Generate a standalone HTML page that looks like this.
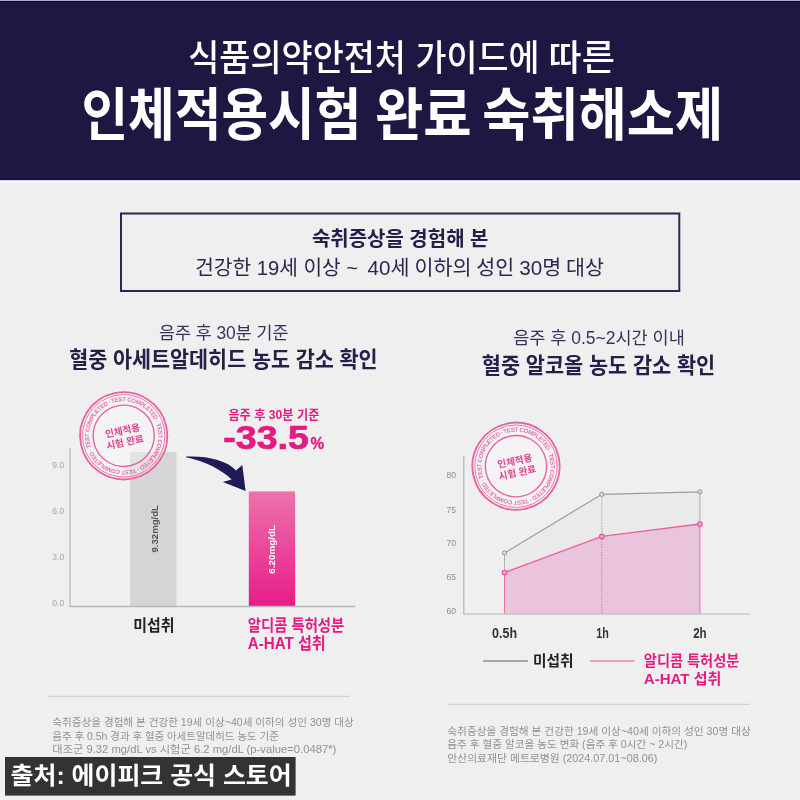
<!DOCTYPE html>
<html lang="ko">
<head>
<meta charset="utf-8">
<title>인체적용시험 완료 숙취해소제</title>
<style>
html,body{margin:0;padding:0;background:#efefef;}
body{width:800px;height:800px;overflow:hidden;}
svg{display:block;}
text{font-family:"Liberation Sans","Noto Sans CJK KR",sans-serif;}
.kr{font-family:"Noto Sans CJK KR","Liberation Sans",sans-serif;}
</style>
</head>
<body>
<svg width="800" height="800" viewBox="0 0 800 800">
<defs>
<linearGradient id="pinkbar" x1="0" y1="0" x2="0" y2="1">
<stop offset="0" stop-color="#ed72ab"/>
<stop offset="1" stop-color="#e81c8a"/>
</linearGradient>
<path id="ring1" d="M 0 -34.6 A 34.6 34.6 0 1 1 -0.01 -34.6"/>
<g id="stamp">
<circle r="43.6" fill="#ffffff" fill-opacity="0.35" stroke="#ea63a0" stroke-width="1.8"/>
<circle r="41.2" fill="none" stroke="#ea63a0" stroke-width="0.8"/>
<circle r="30.6" fill="none" stroke="#ea63a0" stroke-width="1.4"/>
<text font-size="6" font-weight="700" fill="#e8559a" fill-opacity="0.85" transform="rotate(-8)"><textPath href="#ring1" textLength="216" lengthAdjust="spacing">TEST COMPLETED · TEST COMPLETED · TEST COMPLETED · TEST COMPLETED ·</textPath></text>
<text x="0" y="-1.8" text-anchor="middle" font-size="9.6" font-weight="700" fill="#e5408f">인체적용</text>
<text x="0" y="10" text-anchor="middle" font-size="9.6" font-weight="700" fill="#e5408f">시험 완료</text>
</g>
</defs>

<!-- background -->
<rect x="0" y="0" width="800" height="800" fill="#efefef"/>
<!-- header -->
<rect x="0" y="0" width="800" height="180.3" fill="#1d1742"/>
<rect x="0" y="0" width="800" height="1" fill="#a9a5cc"/>
<rect x="0" y="1" width="800" height="1.4" fill="#0f0a38"/>
<rect x="0" y="178" width="800" height="2.3" fill="#17123e"/>
<rect x="0" y="180.3" width="800" height="2.2" fill="#f8f8fb"/>
<text y="71" font-size="36" font-weight="500" fill="#ffffff"><tspan x="188.2" textLength="217.8" lengthAdjust="spacingAndGlyphs">식품의약안전처</tspan> <tspan x="415.6" textLength="124" lengthAdjust="spacingAndGlyphs">가이드에</tspan> <tspan x="548.5" textLength="66.3" lengthAdjust="spacingAndGlyphs">따른</tspan></text>
<text y="135" font-size="57" font-weight="700" fill="#ffffff"><tspan x="81.4" textLength="280" lengthAdjust="spacingAndGlyphs">인체적용시험</tspan> <tspan x="375" textLength="96.6" lengthAdjust="spacingAndGlyphs">완료</tspan> <tspan x="482.2" textLength="241" lengthAdjust="spacingAndGlyphs">숙취해소제</tspan></text>

<!-- subject box -->
<rect x="121" y="213.5" width="558.3" height="77.5" fill="none" stroke="#2a2755" stroke-width="2"/>
<text x="400.2" y="246" text-anchor="middle" font-size="20" font-weight="700" fill="#23204a" textLength="176.5" lengthAdjust="spacingAndGlyphs">숙취증상을 경험해 본</text>
<text y="274.5" font-size="20.5" font-weight="400" fill="#2b2950"><tspan x="195.2" textLength="163" lengthAdjust="spacingAndGlyphs">건강한 19세 이상 ~</tspan> <tspan x="367.6" textLength="236.5" word-spacing="-0.8" lengthAdjust="spacingAndGlyphs">40세 이하의 성인 30명 대상</tspan></text>

<!-- left titles -->
<text x="223.7" y="338.5" text-anchor="middle" font-size="17.5" font-weight="400" fill="#35335a" textLength="129.5" lengthAdjust="spacingAndGlyphs">음주 후 30분 기준</text>
<text x="223.4" y="366.6" text-anchor="middle" font-size="22" font-weight="700" fill="#23204a" textLength="308.5" lengthAdjust="spacingAndGlyphs">혈중 아세트알데히드 농도 감소 확인</text>

<!-- left chart -->
<rect x="130" y="452" width="46.5" height="154" fill="#d5d5d5"/>
<rect x="248.8" y="491.4" width="46.3" height="114.8" fill="url(#pinkbar)"/>
<line x1="70" y1="448" x2="70" y2="607.1" stroke="#b9b9b9" stroke-width="1.3"/>
<line x1="69.4" y1="606.5" x2="355.5" y2="606.5" stroke="#b9b9b9" stroke-width="1.3"/>
<g font-size="8.6" fill="#a6a6a6" text-anchor="middle">
<text x="58.3" y="467.5">9.0</text>
<text x="58.3" y="514">6.0</text>
<text x="58.3" y="560">3.0</text>
<text x="58.3" y="606.3">0.0</text>
</g>
<text transform="translate(157.6,528.8) rotate(-90)" text-anchor="middle" font-size="9.6" font-weight="700" fill="#555555" textLength="47.5" lengthAdjust="spacingAndGlyphs">9.32mg/dL</text>
<text transform="translate(275.4,549.4) rotate(-90)" text-anchor="middle" font-size="9.6" font-weight="700" fill="#ffffff" textLength="48.7" lengthAdjust="spacingAndGlyphs">6.20mg/dL</text>
<text x="153.8" y="630.5" text-anchor="middle" font-size="15.5" font-weight="700" fill="#222222" textLength="41.3" lengthAdjust="spacingAndGlyphs">미섭취</text>
<text x="247.8" y="631" font-size="16" font-weight="700" fill="#e51a82" textLength="96.5" lengthAdjust="spacingAndGlyphs">알디콤 특허성분</text>
<text x="247.8" y="649" font-size="16" font-weight="700" fill="#e51a82" textLength="78" lengthAdjust="spacingAndGlyphs">A-HAT 섭취</text>

<!-- arrow -->
<path d="M186 456.6 C206 455.6 227 460 236 470.6 L242.3 465 L245.6 491 L222.8 482 L231.6 479.6 C222.5 470 205 461.2 186 457.2 Z" fill="#1e1b57"/>

<!-- pink callout -->
<text x="273.9" y="418.5" text-anchor="middle" font-size="13" font-weight="700" fill="#e51a82" textLength="91" lengthAdjust="spacingAndGlyphs">음주 후 30분 기준</text>
<text x="223.3" y="448.8" font-size="32.5" font-weight="700" fill="#e51a82" stroke="#e51a82" stroke-width="0.7" textLength="85.5" lengthAdjust="spacingAndGlyphs">-33.5</text>
<text x="310.6" y="448.8" font-size="16.8" font-weight="700" fill="#e51a82" stroke="#e51a82" stroke-width="0.4" textLength="13.6" lengthAdjust="spacingAndGlyphs">%</text>

<!-- left stamp -->
<g transform="translate(123.7,435.8) rotate(-12)"><use href="#stamp"/></g>

<!-- right titles -->
<text x="599" y="344.3" text-anchor="middle" font-size="17.5" font-weight="400" fill="#35335a" textLength="171.5" lengthAdjust="spacingAndGlyphs">음주 후 0.5~2시간 이내</text>
<text x="598.5" y="373" text-anchor="middle" font-size="22" font-weight="700" fill="#23204a" textLength="233.5" lengthAdjust="spacingAndGlyphs">혈중 알코올 농도 감소 확인</text>

<!-- right chart -->
<polygon points="504.5,553 601.8,494.3 699.9,491.8 699.9,614 504.5,614" fill="#eaeaea"/>
<polygon points="504.5,572.5 601.8,536.4 699.9,524 699.9,614 504.5,614" fill="#eac4da"/>
<line x1="504.5" y1="553" x2="504.5" y2="572.5" stroke="#a8a8a8" stroke-width="0.9"/>
<line x1="601.8" y1="494.3" x2="601.8" y2="536.4" stroke="#a0a0a0" stroke-width="0.9" stroke-dasharray="1.3 1.3"/>
<line x1="699.9" y1="491.8" x2="699.9" y2="524" stroke="#a8a8a8" stroke-width="0.9"/>
<line x1="504.5" y1="572.5" x2="504.5" y2="614" stroke="#ea6aa8" stroke-width="0.9"/>
<line x1="601.8" y1="536.4" x2="601.8" y2="614" stroke="#e85fa3" stroke-width="0.9" stroke-dasharray="1.3 1.3"/>
<line x1="699.9" y1="524" x2="699.9" y2="614" stroke="#ea6aa8" stroke-width="0.9"/>
<polyline points="504.5,553 601.8,494.3 699.9,491.8" fill="none" stroke="#9c9c9c" stroke-width="1.2"/>
<polyline points="504.5,572.5 601.8,536.4 699.9,524" fill="none" stroke="#ea62a2" stroke-width="1.4"/>
<g fill="#dcdcdc" stroke="#969696" stroke-width="1"><circle cx="504.5" cy="553" r="2.1"/><circle cx="601.8" cy="494.3" r="2.1"/><circle cx="699.9" cy="491.8" r="2.1"/></g>
<g fill="#f4a6cb" stroke="#e8509a" stroke-width="1.1"><circle cx="504.5" cy="572.5" r="2.3"/><circle cx="601.8" cy="536.4" r="2.3"/><circle cx="699.9" cy="524" r="2.3"/></g>
<line x1="463.8" y1="455.5" x2="463.8" y2="614.6" stroke="#b4b4b4" stroke-width="1.2"/>
<line x1="463.2" y1="614" x2="750" y2="614" stroke="#b4b4b4" stroke-width="1.2"/>
<g font-size="8.6" fill="#8e8e8e" text-anchor="middle">
<text x="451.3" y="478.1">80</text><text x="451.3" y="512.6">75</text><text x="451.3" y="546.1">70</text><text x="451.3" y="580.1">65</text><text x="451.3" y="613.8">60</text>
</g>
<g font-size="14" font-weight="700" fill="#333333" text-anchor="middle">
<text x="504.6" y="637.8" textLength="25" lengthAdjust="spacingAndGlyphs">0.5h</text><text x="602.6" y="637.8" textLength="12.5" lengthAdjust="spacingAndGlyphs">1h</text><text x="699.9" y="637.8" textLength="13.5" lengthAdjust="spacingAndGlyphs">2h</text>
</g>
<line x1="483.1" y1="661" x2="527.8" y2="661" stroke="#8c8c8c" stroke-width="1.5"/>
<text x="533" y="666.4" font-size="15" font-weight="700" fill="#222222" textLength="40.6" lengthAdjust="spacingAndGlyphs">미섭취</text>
<line x1="590" y1="661" x2="634.6" y2="661" stroke="#ef7fb5" stroke-width="1.5"/>
<text x="643.8" y="666.4" font-size="15" font-weight="700" fill="#e51a82" textLength="95.6" lengthAdjust="spacingAndGlyphs">알디콤 특허성분</text>
<text x="643.8" y="684" font-size="15" font-weight="700" fill="#e51a82" textLength="77.6" lengthAdjust="spacingAndGlyphs">A-HAT 섭취</text>

<!-- right stamp -->
<g transform="translate(516,466.2) rotate(-12)"><use href="#stamp"/></g>

<!-- footnotes -->
<line x1="48" y1="696.3" x2="350" y2="696.3" stroke="#d3d3d3" stroke-width="1.2"/>
<g font-size="10.3" fill="#919191" lengthAdjust="spacingAndGlyphs">
<text x="52.3" y="726" textLength="301.5" lengthAdjust="spacingAndGlyphs">숙취증상을 경험해 본 건강한 19세 이상~40세 이하의 성인 30명 대상</text>
<text x="52.3" y="739.5" textLength="226.5" lengthAdjust="spacingAndGlyphs">음주 후 0.5h 경과 후 혈중 아세트알데히드 농도 기준</text>
<text x="52.3" y="753" textLength="284" lengthAdjust="spacingAndGlyphs">대조군 9.32 mg/dL vs 시험군 6.2 mg/dL (p-value=0.0487*)</text>
</g>
<line x1="447.5" y1="704.3" x2="749.5" y2="704.3" stroke="#d3d3d3" stroke-width="1.2"/>
<g font-size="10.3" fill="#919191">
<text x="447.3" y="734.5" textLength="303.5" lengthAdjust="spacingAndGlyphs">숙취증상을 경험해 본 건강한 19세 이상~40세 이하의 성인 30명 대상</text>
<text x="447.3" y="748" textLength="240" lengthAdjust="spacingAndGlyphs">음주 후 혈중 알코올 농도 변화 (음주 후 0시간 ~ 2시간)</text>
<text x="447.3" y="761.5" textLength="210" lengthAdjust="spacingAndGlyphs">안산의료재단 메트로병원 (2024.07.01~08.06)</text>
</g>

<!-- source label -->
<rect x="5" y="757" width="290.6" height="38.6" fill="#333333"/>
<text x="10.6" y="783.6" font-size="23.5" font-weight="700" fill="#ffffff" textLength="281" lengthAdjust="spacingAndGlyphs">출처: 에이피크 공식 스토어</text>
</svg>
</body>
</html>
